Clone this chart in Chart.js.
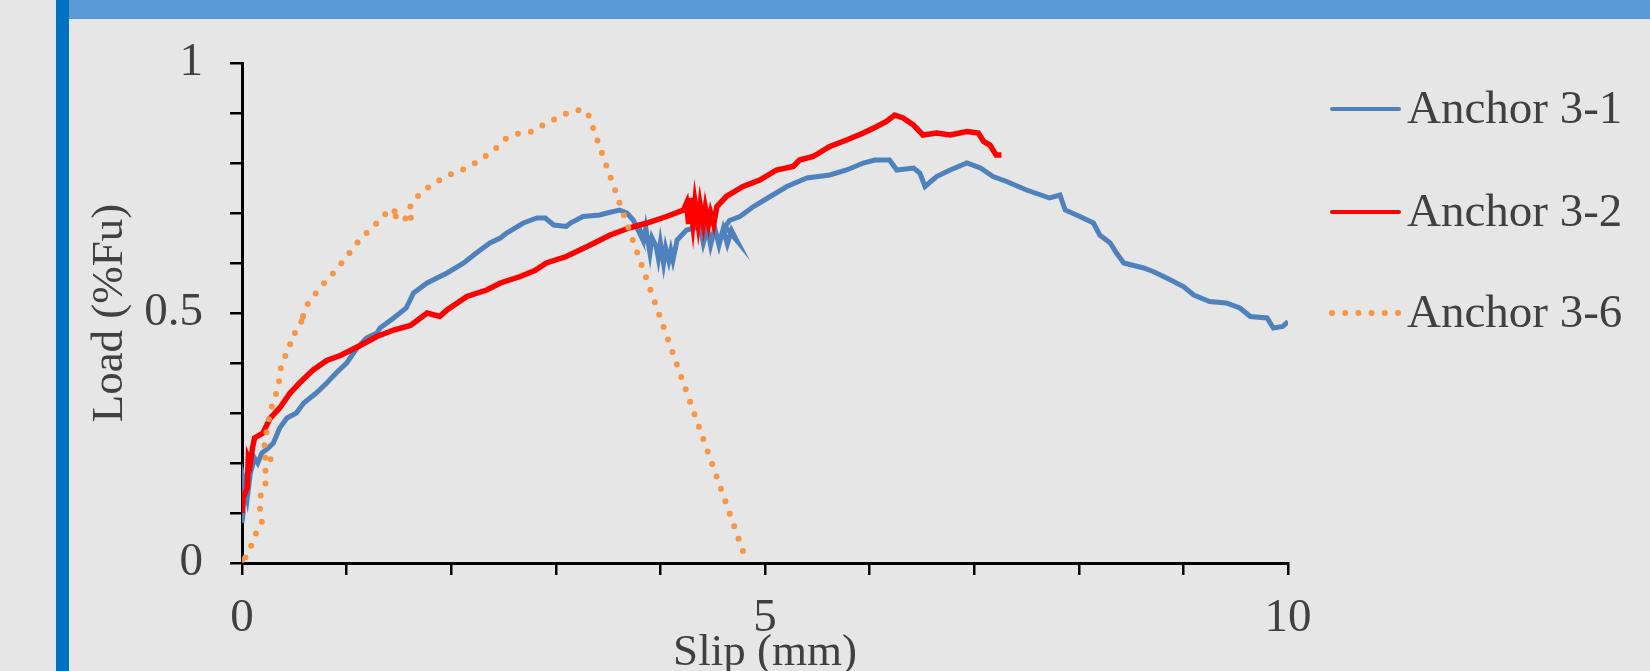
<!DOCTYPE html>
<html>
<head>
<meta charset="utf-8">
<script src="https://cdn.jsdelivr.net/npm/chart.js@4.4.0/dist/chart.umd.min.js"></script>
<style>
    body { margin: 0; width: 1650px; height: 671px; overflow: hidden; background: #e6e6e6; position: relative; }
    #sideBar { position: absolute; left: 56px; top: 0; width: 13px; height: 671px; background: #0070c0; }
    #topBar { position: absolute; left: 69px; top: 0; width: 1581px; height: 19px; background: #5b9bd5; }
    #chartBox { position: absolute; left: 0; top: 0; }
</style>
</head>
<body>
<div id="sideBar"></div>
<div id="topBar"></div>
<div id="chartBox"><canvas id="slipChart" width="1650" height="700"></canvas></div>
<script>
// Load-slip curves
const seriesNames = ['Anchor 3-1', 'Anchor 3-2', 'Anchor 3-6'];

const slip31 = [0.00, 0.01, 0.02, 0.05, 0.08, 0.12, 0.15, 0.19, 0.25, 0.30, 0.36, 0.43, 0.52, 0.59, 0.71, 0.81, 0.90, 1.00, 1.10, 1.19,
    1.29, 1.32, 1.45, 1.57, 1.64, 1.77, 1.96, 2.12, 2.24, 2.37, 2.47, 2.53, 2.69, 2.82, 2.90, 2.98, 3.10, 3.14, 3.26, 3.42,
    3.49, 3.61, 3.68, 3.74, 3.80, 3.78, 3.84, 3.86, 3.90, 3.92, 3.96, 3.98, 4.00, 4.03, 4.05, 4.08, 4.10, 4.12, 4.16, 4.25,
    4.38, 4.41, 4.45, 4.48, 4.52, 4.56, 4.60, 4.64, 4.68, 4.73, 4.62, 4.66,
    4.76, 4.89, 5.05, 5.21, 5.40, 5.62, 5.78, 5.94, 6.05, 6.19, 6.26, 6.42, 6.48, 6.53, 6.64, 6.77, 6.93, 7.06, 7.18, 7.31,
    7.50, 7.72, 7.82, 7.87, 8.01, 8.14, 8.20, 8.30, 8.36, 8.43, 8.62, 8.71, 8.84, 9.00, 9.10, 9.25, 9.41, 9.54, 9.64, 9.80,
    9.86, 9.95, 10.0];
const load31 = [0.08, 0.10, 0.16, 0.13, 0.18, 0.21, 0.20, 0.22, 0.23, 0.24, 0.27, 0.29, 0.30, 0.32, 0.34, 0.36, 0.38, 0.40, 0.43, 0.45,
    0.46, 0.47, 0.49, 0.51, 0.54, 0.56, 0.58, 0.60, 0.62, 0.64, 0.65, 0.66, 0.68, 0.69, 0.69, 0.676, 0.673, 0.68, 0.693, 0.696,
    0.70, 0.706, 0.70, 0.686, 0.66, 0.68, 0.646, 0.67, 0.62, 0.65, 0.633, 0.61, 0.64, 0.60, 0.63, 0.605, 0.625, 0.606, 0.646, 0.666,
    0.673, 0.64, 0.67, 0.636, 0.67, 0.636, 0.668, 0.638, 0.665, 0.645, 0.673, 0.685,
    0.693, 0.713, 0.733, 0.753, 0.77, 0.776, 0.786, 0.80, 0.806, 0.806, 0.786, 0.79, 0.78, 0.753, 0.773, 0.786, 0.80, 0.79, 0.773, 0.763,
    0.746, 0.73, 0.736, 0.706, 0.693, 0.68, 0.656, 0.64, 0.62, 0.60, 0.59, 0.583, 0.57, 0.553, 0.536, 0.523, 0.52, 0.51, 0.493, 0.49,
    0.47, 0.473, 0.483];

const slip32 = [0.00, 0.01, 0.05, 0.06, 0.08, 0.10, 0.12, 0.20, 0.27, 0.36, 0.46, 0.55, 0.68, 0.81, 0.94, 1.13, 1.29, 1.45, 1.61, 1.77,
    1.89, 1.96, 2.15, 2.34, 2.47, 2.66, 2.80, 2.91, 3.10, 3.33, 3.52, 3.70, 3.87, 4.06, 4.22, 4.25, 4.27, 4.28, 4.31, 4.33,
    4.36, 4.38, 4.41, 4.43, 4.46, 4.48, 4.51, 4.54, 4.63, 4.79, 4.95, 5.11, 5.27, 5.33, 5.46, 5.62, 5.78, 5.94, 6.07, 6.16,
    6.24, 6.32, 6.42, 6.51, 6.64, 6.77, 6.93, 7.04, 7.09, 7.15, 7.21, 7.26];
const load32 = [0.10, 0.13, 0.15, 0.21, 0.20, 0.23, 0.25, 0.26, 0.29, 0.31, 0.34, 0.36, 0.386, 0.405, 0.415, 0.435, 0.453, 0.466, 0.475, 0.50,
    0.493, 0.506, 0.533, 0.546, 0.56, 0.573, 0.585, 0.60, 0.613, 0.636, 0.656, 0.67, 0.68, 0.693, 0.706, 0.72, 0.678, 0.73, 0.678, 0.722,
    0.678, 0.716, 0.678, 0.71, 0.678, 0.70, 0.678, 0.713, 0.733, 0.753, 0.766, 0.786, 0.793, 0.806, 0.813, 0.833, 0.846, 0.86, 0.873, 0.883,
    0.896, 0.89, 0.876, 0.856, 0.86, 0.856, 0.863, 0.86, 0.843, 0.836, 0.816, 0.816];

const slip36 = [0.00, 0.02, 0.06, 0.03, 0.10, 0.14, 0.19, 0.17, 0.18, 0.24, 0.22, 0.28, 0.25, 0.20, 0.22, 0.24, 0.27, 0.30, 0.35, 0.36,
    0.39, 0.46, 0.46, 0.55, 0.59, 0.57, 0.60, 0.67, 0.73, 0.81, 0.90, 1.00, 1.10, 1.19, 1.29, 1.38, 1.45, 1.51, 1.45, 1.55,
    1.64, 1.58, 1.64, 1.77, 1.89, 2.02, 2.15, 2.28, 2.43, 2.53, 2.66, 2.78, 2.88, 3.01, 3.14, 3.20, 3.30, 4.83];
const load36 = [0.006, 0.00, 0.008, 0.01, 0.04, 0.063, 0.083, 0.10, 0.14, 0.166, 0.19, 0.21, 0.20, 0.22, 0.24, 0.27, 0.30, 0.326, 0.35, 0.38,
    0.406, 0.43, 0.45, 0.47, 0.50, 0.48, 0.51, 0.53, 0.546, 0.566, 0.586, 0.613, 0.64, 0.66, 0.68, 0.70, 0.69, 0.70, 0.705, 0.69,
    0.683, 0.70, 0.726, 0.75, 0.766, 0.78, 0.79, 0.806, 0.83, 0.85, 0.86, 0.863, 0.876, 0.89, 0.903, 0.906, 0.903, 0.00];

const xTickLabels = [0, 5, 10];
const yTickLabels = [0, 0.5, 1];

const FONT_FAMILY = '"Liberation Serif", "Times New Roman", serif';
const TEXT_COLOR = '#404040';
const seriesColors = ['#4f81bd', '#ff0000', '#f79646'];

function toPoints(xs, ys) {
    return xs.map((x, i) => ({ x: x, y: ys[i] }));
}

function hasLabel(list, value) {
    return list.some((v) => Math.abs(v - value) < 1e-6);
}

// legend drawn by hand, to sit where the original has it
const sideLegend = {
    id: 'sideLegend',
    afterDraw(chart) {
        const ctx = chart.ctx;
        const rowY = [109, 212, 313];
        chart.data.datasets.forEach((ds, i) => {
            const y = rowY[i];
            ctx.save();
            ctx.strokeStyle = ds.borderColor;
            ctx.lineCap = 'round';
            if (ds.borderDash && ds.borderDash.length) {
                ctx.lineWidth = 6;
                ctx.setLineDash([0, 13.2]);
            } else {
                ctx.lineWidth = 4;
            }
            ctx.beginPath();
            ctx.moveTo(1332, y);
            ctx.lineTo(1399, y);
            ctx.stroke();
            ctx.setLineDash([]);
            ctx.fillStyle = TEXT_COLOR;
            ctx.font = '47px ' + FONT_FAMILY;
            ctx.textBaseline = 'alphabetic';
            ctx.textAlign = 'left';
            ctx.fillText(ds.label, 1407, y + 14);
            ctx.restore();
        });
    },
};

const ctx = document.getElementById('slipChart').getContext('2d');

new Chart(ctx, {
    type: 'scatter',
    data: {
        datasets: [
            {
                label: seriesNames[0],
                data: toPoints(slip31, load31),
                borderColor: seriesColors[0],
                backgroundColor: seriesColors[0],
                borderWidth: 5,
                showLine: true,
                pointRadius: 0,
                order: 3,
            },
            {
                label: seriesNames[1],
                data: toPoints(slip32, load32),
                borderColor: seriesColors[1],
                backgroundColor: seriesColors[1],
                borderWidth: 5.5,
                showLine: true,
                pointRadius: 0,
                order: 2,
            },
            {
                label: seriesNames[2],
                data: toPoints(slip36, load36),
                borderColor: seriesColors[2],
                backgroundColor: seriesColors[2],
                borderWidth: 6,
                borderDash: [0, 13.2],
                borderCapStyle: 'round',
                showLine: true,
                pointRadius: 0,
                order: 1,
            },
        ],
    },
    options: {
        responsive: false,
        animation: false,
        layout: {
            padding: { top: 63, right: 362, bottom: 0, left: 0 },
        },
        plugins: {
            legend: { display: false },
            tooltip: { enabled: false },
        },
        scales: {
            x: {
                type: 'linear',
                min: 0,
                max: 10,
                border: { display: true, color: '#000000', width: 3 },
                grid: { drawOnChartArea: false, drawTicks: true, tickLength: 12, color: '#000000', lineWidth: 2.5 },
                ticks: {
                    stepSize: 1,
                    autoSkip: false,
                    maxRotation: 0,
                    padding: 15,
                    color: TEXT_COLOR,
                    font: { family: FONT_FAMILY, size: 47 },
                    callback: (value) => (hasLabel(xTickLabels, value) ? String(value) : ''),
                },
                title: {
                    display: true,
                    text: 'Slip (mm)',
                    color: TEXT_COLOR,
                    font: { family: FONT_FAMILY, size: 45 },
                    padding: { top: 0, bottom: 20 },
                },
                afterFit: (scale) => {
                    scale.height = 137;
                },
            },
            y: {
                type: 'linear',
                min: 0,
                max: 1,
                border: { display: true, color: '#000000', width: 3 },
                grid: { drawOnChartArea: false, drawTicks: true, tickLength: 12, color: '#000000', lineWidth: 2.5 },
                ticks: {
                    stepSize: 0.1,
                    autoSkip: false,
                    padding: 27,
                    color: TEXT_COLOR,
                    font: { family: FONT_FAMILY, size: 47 },
                    callback: (value) => (hasLabel(yTickLabels, value) ? String(Math.round(value * 10) / 10) : ''),
                },
                title: {
                    display: true,
                    text: 'Load (%Fu)',
                    color: TEXT_COLOR,
                    font: { family: FONT_FAMILY, size: 45 },
                    padding: { top: 83, bottom: 0 },
                },
                afterFit: (scale) => {
                    scale.width = 242;
                },
            },
        },
    },
    plugins: [sideLegend],
});
</script>
</body>
</html>
